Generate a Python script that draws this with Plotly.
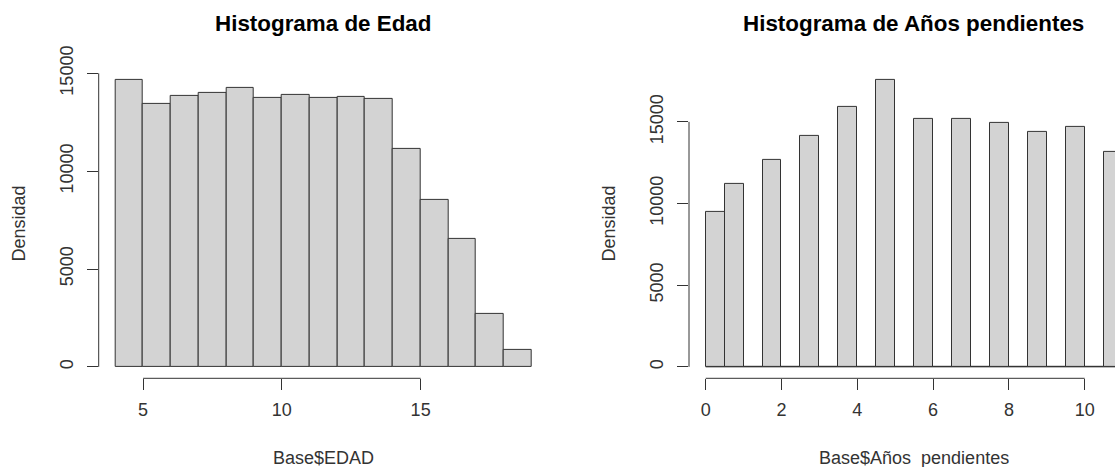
import plotly.graph_objects as go

W, H = 1115, 467

# ---- data ----
edad_breaks = [4, 5, 6, 7, 8, 9, 10, 11, 12, 13, 14, 15, 16, 17, 18, 19]
edad_counts = [14640, 13430, 13840, 13990, 14270, 13720, 13910, 13720, 13790,
               13670, 11150, 8520, 6530, 2730, 850]

anos_breaks = [0, 0.5, 1, 1.5, 2, 2.5, 3, 3.5, 4, 4.5, 5, 5.5, 6, 6.5, 7, 7.5,
               8, 8.5, 9, 9.5, 10, 10.5, 11]
anos_counts = [9490, 11230, 0, 12700, 0, 14120, 0, 15920, 0, 17540, 0, 15210,
               0, 15210, 0, 14940, 0, 14410, 0, 14720, 0, 13130]

y_ticks = [0, 5000, 10000, 15000]
y_ticktext = ["0", "5000", "10000", "15000"]
edad_xticks = [5, 10, 15]
anos_xticks = [0, 2, 4, 6, 8, 10]

titles = ["Histograma de Edad", "Histograma de Años pendientes"]
xlabels = ["Base$EDAD", "Base$Años_pendientes"]
ylabel = "Densidad"

# ---- styling ----
FONT = "Liberation Sans, Arial, sans-serif"
FILL = "#D3D3D3"
EDGE = "#333333"
TXT = "#333333"
FS = 18


def px_x(p):
    return p / W


def px_y(p):
    return 1 - p / H


def mids(b):
    return [(b[i] + b[i + 1]) / 2 for i in range(len(b) - 1)]


def widths(b):
    return [b[i + 1] - b[i] for i in range(len(b) - 1)]


fig = go.Figure()
fig.add_trace(go.Bar(x=mids(edad_breaks), y=edad_counts, width=widths(edad_breaks),
                     marker=dict(color=FILL, line=dict(color=EDGE, width=1)),
                     xaxis="x", yaxis="y", showlegend=False, hoverinfo="skip"))
fig.add_trace(go.Bar(x=mids(anos_breaks), y=anos_counts, width=widths(anos_breaks),
                     marker=dict(color=FILL, line=dict(color=EDGE, width=1)),
                     xaxis="x2", yaxis="y2", showlegend=False, hoverinfo="skip",
                     cliponaxis=True))


def rrange(lo, hi):
    d = hi - lo
    return [lo - 0.04 * d, hi + 0.04 * d]


yb, yt = px_y(378.3), px_y(68.9)
common_ax = dict(showline=False, showgrid=False, zeroline=False, ticks="outside",
                 ticklen=11, tickwidth=1, tickcolor=EDGE, automargin=False,
                 tickfont=dict(family=FONT, size=FS, color=TXT))

xr1 = rrange(edad_breaks[0], edad_breaks[-1])
xr2 = rrange(anos_breaks[0], anos_breaks[-1])
# right panel is cropped at the image edge
x2_left_px, x2_px_per_unit = 689.0, 37.9
xr2_crop = [xr2[0], xr2[0] + (W - x2_left_px) / x2_px_per_unit]

fig.update_layout(
    width=W, height=H, margin=dict(l=0, r=0, t=0, b=0, pad=0), autosize=False,
    paper_bgcolor="white", plot_bgcolor="white", bargap=0,
    xaxis=dict(domain=[px_x(98.7), px_x(548.3)], range=xr1, tickvals=edad_xticks,
               anchor="y", ticklabelstandoff=4, **common_ax),
    yaxis=dict(domain=[yb, yt], range=rrange(0, max(edad_counts)), tickvals=y_ticks,
               ticktext=y_ticktext, tickangle=-90, anchor="x", ticklabelstandoff=7,
               **common_ax),
    xaxis2=dict(domain=[px_x(689.0), 1.0], range=xr2_crop, tickvals=anos_xticks,
                anchor="y2", ticklabelstandoff=4, **common_ax),
    yaxis2=dict(domain=[yb, yt], range=rrange(0, max(anos_counts)), tickvals=y_ticks,
                ticktext=y_ticktext, tickangle=-90, anchor="x2", ticklabelstandoff=7,
                **common_ax),
)

line = dict(color=EDGE, width=1)
shapes = [
    dict(type="line", xref="x domain", yref="y", x0=0, x1=0, y0=y_ticks[0], y1=y_ticks[-1], line=line),
    dict(type="line", xref="x", yref="y domain", x0=edad_xticks[0], x1=edad_xticks[-1], y0=0, y1=0, line=line),
    dict(type="line", xref="x2 domain", yref="y2", x0=0, x1=0, y0=y_ticks[0], y1=y_ticks[-1], line=line),
    dict(type="line", xref="x2", yref="y2 domain", x0=anos_xticks[0], x1=anos_xticks[-1], y0=0, y1=0, line=line),
    dict(type="line", xref="x2", yref="y2", x0=anos_breaks[0], x1=anos_breaks[-1], y0=0, y1=0, line=line),
]
fig.update_layout(shapes=shapes)

annos = []
for cx, t in zip([323.5, 913.8], titles):
    annos.append(dict(text="<b>%s</b>" % t, x=px_x(cx), y=px_y(24), xref="paper", yref="paper",
                      xanchor="center", yanchor="middle", showarrow=False,
                      font=dict(family=FONT, size=22.4, color="black")))
for cx, t in zip([323.5, 913.8], xlabels):
    annos.append(dict(text=t, x=px_x(cx), y=px_y(458), xref="paper", yref="paper",
                      xanchor="center", yanchor="middle", showarrow=False,
                      font=dict(family=FONT, size=FS, color=TXT)))
for cx in [19.0, 609.0]:
    annos.append(dict(text=ylabel, x=px_x(cx), y=px_y(223.6), xref="paper", yref="paper",
                      xanchor="center", yanchor="middle", showarrow=False, textangle=-90,
                      font=dict(family=FONT, size=FS, color=TXT)))
fig.update_layout(annotations=annos)

fig.write_html("out.html", config={"displayModeBar": False},
               post_script="document.body.style.margin='0';document.body.style.padding='0';"
                           "document.body.style.overflow='hidden';")
